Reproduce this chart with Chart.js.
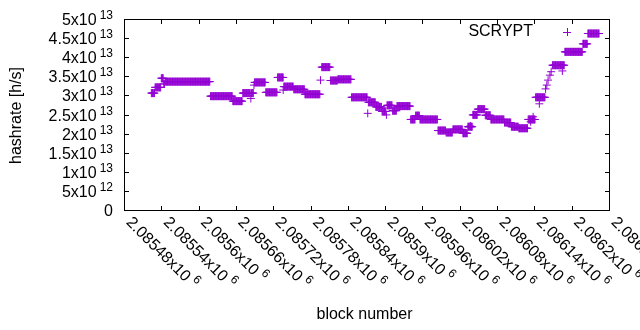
<!DOCTYPE html>
<html>
<head>
<meta charset="utf-8">
<title>SCRYPT hashrate</title>
<script src="https://cdn.jsdelivr.net/npm/chart.js@4.4.1/dist/chart.umd.min.js"></script>
<style>
    html, body { margin: 0; padding: 0; background: #fff; }
    #wrap { width: 640px; height: 330px; }
</style>
</head>
<body>
<div id="wrap"><canvas id="hashChart" width="640" height="330"></canvas></div>
<script>
// Block runs with a constant hashrate estimate (rate in units of 1e13 h/s)
const runFirst = [
    2085524, 2085530, 2085540, 2085544, 2085546, 2085619, 2085655, 2085671,
    2085685, 2085690, 2085708, 2085727, 2085737, 2085753, 2085771, 2085798,
    2085812, 2085824, 2085846, 2085873, 2085885, 2085895, 2085903, 2085912,
    2085919, 2085941, 2085949, 2085956, 2085985, 2085998, 2086009, 2086025,
    2086033, 2086041, 2086049, 2086061, 2086070, 2086092, 2086103, 2086115,
    2086130, 2086142, 2086169, 2086189, 2086218, 2086226
];
const runLast = [
    2085529, 2085539, 2085543, 2085545, 2085618, 2085654, 2085670, 2085683,
    2085688, 2085707, 2085726, 2085736, 2085752, 2085770, 2085795, 2085811,
    2085823, 2085845, 2085871, 2085884, 2085894, 2085901, 2085911, 2085918,
    2085940, 2085948, 2085955, 2085984, 2085997, 2086008, 2086024, 2086032,
    2086040, 2086048, 2086060, 2086069, 2086091, 2086102, 2086114, 2086129,
    2086141, 2086157, 2086188, 2086217, 2086225, 2086244
];
const runRate = [
    3.06, 3.21, 3.45, 3.30, 3.36, 2.98, 2.85, 3.06,
    3.06, 3.34, 3.08, 3.47, 3.23, 3.16, 3.03, 3.74,
    3.39, 3.42, 2.95, 2.82, 2.70, 2.58, 2.74, 2.60,
    2.72, 2.37, 2.47, 2.37, 2.08, 2.03, 2.11, 2.01,
    2.18, 2.49, 2.64, 2.48, 2.37, 2.29, 2.18, 2.14,
    2.37, 2.95, 3.79, 4.14, 4.35, 4.62
];

// Single blocks that stand apart from their run
const oddBlock = [2085684, 2085689, 2085736, 2085796, 2085872, 2085902, 2086037, 2086134, 2086138,
                  2086148, 2086158, 2086160, 2086162, 2086165, 2086167, 2086185];
const oddRate  = [2.92, 3.27, 3.14, 3.40, 2.53, 2.49, 2.20, 2.31, 2.44,
                  2.78, 3.17, 3.27, 3.40, 3.53, 3.62, 3.64];

// Axis ticks
const xTicks = [2085480, 2085540, 2085600, 2085660, 2085720, 2085780, 2085840,
                2085900, 2085960, 2086020, 2086080, 2086140, 2086200, 2086260];
const yTicks = [0, 5e12, 1e13, 1.5e13, 2e13, 2.5e13, 3e13, 3.5e13, 4e13, 4.5e13, 5e13];

const seriesName = 'SCRYPT';
const xTitle = 'block number';
const yTitle = 'hashrate [h/s]';
const markColor = '#9400d3';
const fontFamily = "'Liberation Sans', Arial, sans-serif";

// Build scatter points, one per block
const points = [];
runFirst.forEach((first, i) => {
    for (let b = first; b <= runLast[i]; b++) {
        points.push({ x: b, y: runRate[i] * 1e13 });
    }
});
oddBlock.forEach((b, i) => points.push({ x: b, y: oddRate[i] * 1e13 }));

// "2.0856x10^6" style pieces
function splitPow(v) {
    if (v === 0) return { base: '0', exp: '' };
    const e = Math.floor(Math.log10(v) + 1e-9);
    const m = parseFloat((v / Math.pow(10, e)).toFixed(6));
    return { base: m + 'x10', exp: String(e) };
}

// Draws the gnuplot-like frame, inward ticks, labels, titles and key
const gnuplotFrame = {
    id: 'gnuplotFrame',
    afterDatasetsDraw(chart) {
        const { ctx, chartArea: a, scales } = chart;
        const xs = scales.x, ys = scales.y;
        const big = '16px ' + fontFamily;
        const small = '12px ' + fontFamily;

        ctx.save();
        ctx.strokeStyle = '#000';
        ctx.lineWidth = 1;
        ctx.strokeRect(a.left + 0.5, a.top + 0.5, a.right - a.left, a.bottom - a.top);

        ctx.beginPath();
        yTicks.forEach(v => {
            const py = Math.round(ys.getPixelForValue(v)) + 0.5;
            ctx.moveTo(a.left, py); ctx.lineTo(a.left + 5, py);
            ctx.moveTo(a.right + 1, py); ctx.lineTo(a.right - 4, py);
        });
        xTicks.forEach(v => {
            const px = Math.round(xs.getPixelForValue(v)) + 0.5;
            ctx.moveTo(px, a.bottom + 1); ctx.lineTo(px, a.bottom - 4);
            ctx.moveTo(px, a.top); ctx.lineTo(px, a.top + 5);
        });
        ctx.stroke();

        ctx.fillStyle = '#000';
        ctx.textBaseline = 'alphabetic';

        // y tick labels, right-justified
        yTicks.forEach(v => {
            const py = ys.getPixelForValue(v);
            const t = splitPow(v);
            let right = a.left - 11;
            if (t.exp) {
                ctx.font = small;
                ctx.textAlign = 'right';
                ctx.fillText(t.exp, right, py);
                right -= ctx.measureText(t.exp).width + 3;
            }
            ctx.font = big;
            ctx.textAlign = 'right';
            ctx.fillText(t.base, right, py + 6);
        });

        // x tick labels, rotated by -45 (reading downwards)
        xTicks.forEach(v => {
            const px = xs.getPixelForValue(v);
            const t = splitPow(v);
            ctx.save();
            ctx.translate(px + 4.5, a.bottom + 10);
            ctx.rotate(Math.PI / 4);
            ctx.font = big;
            ctx.textAlign = 'left';
            ctx.textBaseline = 'middle';
            ctx.fillText(t.base, 0, 0);
            const w = ctx.measureText(t.base).width;
            ctx.font = small;
            ctx.fillText(t.exp, w + 4, -6);
            ctx.restore();
        });

        // axis titles
        ctx.font = big;
        ctx.textAlign = 'center';
        ctx.textBaseline = 'middle';
        ctx.fillText(xTitle, (a.left + a.right) / 2 - 2, 315);
        ctx.save();
        ctx.translate(17, (a.top + a.bottom) / 2 + 1);
        ctx.rotate(-Math.PI / 2);
        ctx.fillText(yTitle, 0, 0);
        ctx.restore();

        // key: text then sample point
        ctx.textAlign = 'right';
        ctx.fillText(seriesName, 533, 32);
        ctx.strokeStyle = markColor;
        ctx.beginPath();
        ctx.moveTo(563, 32.5); ctx.lineTo(571, 32.5);
        ctx.moveTo(567.5, 28); ctx.lineTo(567.5, 36);
        ctx.stroke();
        ctx.restore();
    }
};

const hashChart = new Chart(document.getElementById('hashChart'), {
    type: 'scatter',
    data: {
        datasets: [{
            label: seriesName,
            data: points,
            pointStyle: 'cross',
            pointRadius: 4,
            pointBorderWidth: 1,
            borderColor: markColor,
            backgroundColor: markColor
        }]
    },
    options: {
        responsive: false,
        devicePixelRatio: 1,
        animation: false,
        events: [],
        layout: { padding: { left: 124, right: 31, top: 19, bottom: 120 } },
        plugins: {
            legend: { display: false },
            tooltip: { enabled: false }
        },
        scales: {
            x: { type: 'linear', display: false, min: xTicks[0], max: xTicks[xTicks.length - 1] },
            y: { type: 'linear', display: false, min: yTicks[0], max: yTicks[yTicks.length - 1] }
        }
    },
    plugins: [gnuplotFrame]
});
</script>
</body>
</html>
